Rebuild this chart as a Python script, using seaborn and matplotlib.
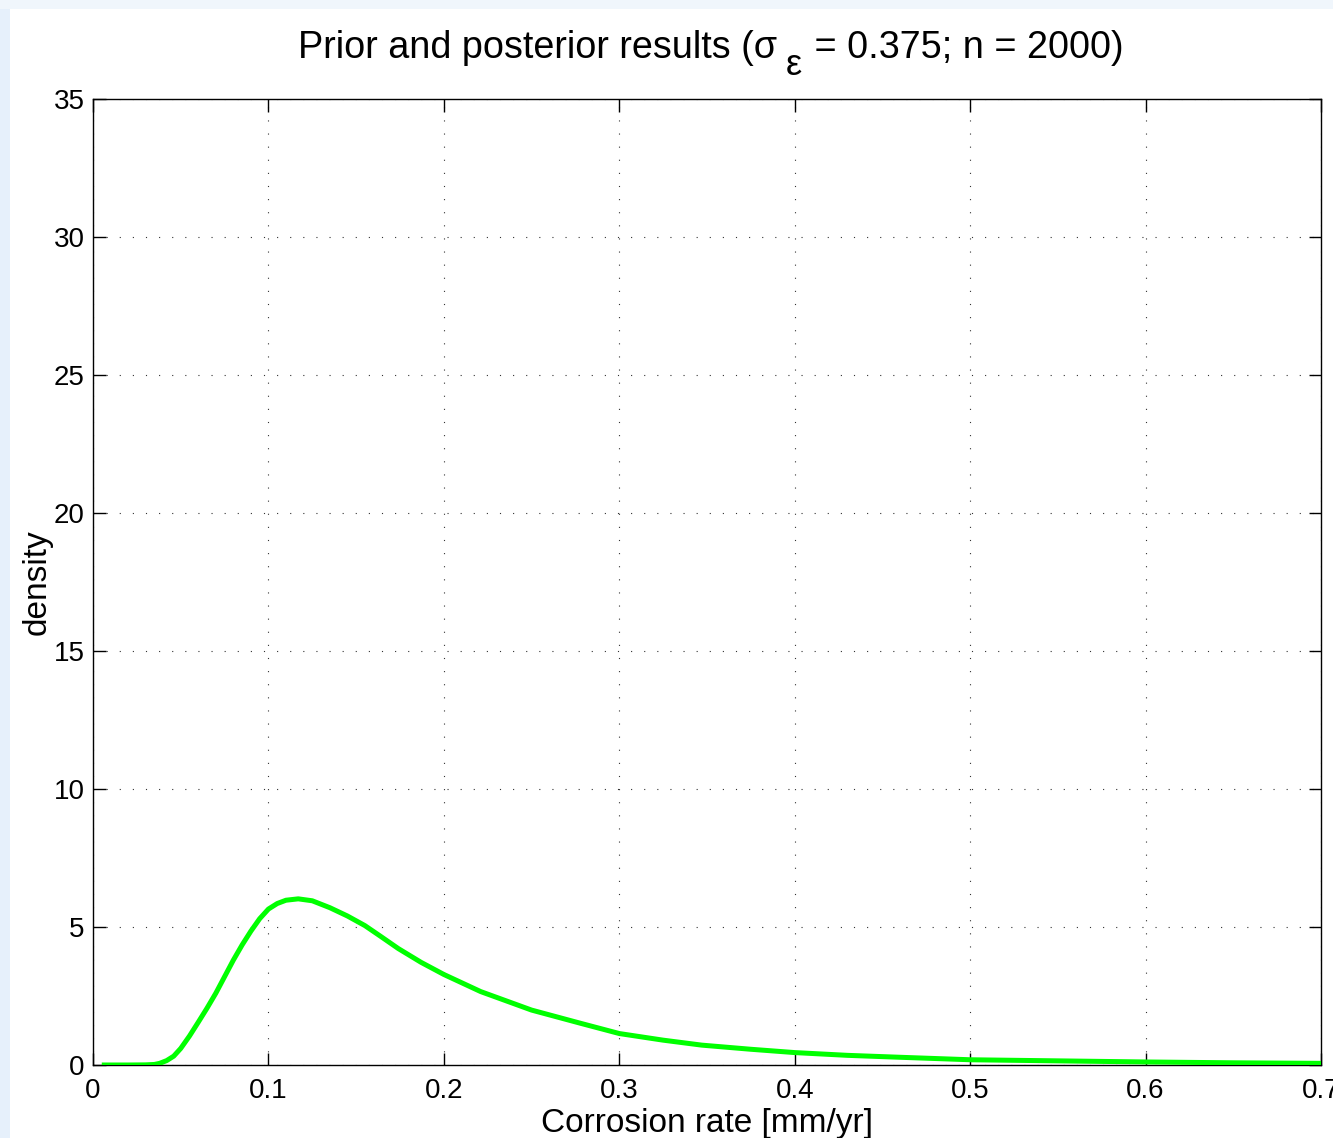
import matplotlib
matplotlib.use("Agg")
import matplotlib.pyplot as plt
import seaborn as sns
import pandas as pd
from matplotlib.patches import Rectangle

# ---- data ----
rate = [0.005, 0.020, 0.030, 0.035, 0.038, 0.042, 0.046, 0.050, 0.055, 0.060,
        0.065, 0.070, 0.075, 0.080, 0.085, 0.090, 0.095, 0.100, 0.105, 0.110,
        0.117, 0.125, 0.135, 0.145, 0.155, 0.164, 0.174, 0.187, 0.200, 0.221,
        0.250, 0.278, 0.300, 0.325, 0.347, 0.375, 0.400, 0.430, 0.460, 0.500,
        0.550, 0.600, 0.650, 0.700]
density = [0.0, 0.0, 0.005, 0.02, 0.06, 0.16, 0.32, 0.6, 1.05, 1.55,
           2.06, 2.6, 3.2, 3.8, 4.35, 4.85, 5.3, 5.65, 5.85, 5.97,
           6.02, 5.95, 5.7, 5.4, 5.05, 4.66, 4.22, 3.72, 3.28, 2.66,
           1.99, 1.51, 1.14, 0.9, 0.72, 0.57, 0.45, 0.35, 0.28, 0.19,
           0.15, 0.11, 0.08, 0.06]

xticks = [0, 0.1, 0.2, 0.3, 0.4, 0.5, 0.6, 0.7]
xticklabels = ["0", "0.1", "0.2", "0.3", "0.4", "0.5", "0.6", "0.7"]
yticks = [0, 5, 10, 15, 20, 25, 30, 35]
yticklabels = ["0", "5", "10", "15", "20", "25", "30", "35"]

title_main = "Prior and posterior results (σ"
title_sub = "ε"
title_rest = " = 0.375; n = 2000)"
xlabel = "Corrosion rate [mm/yr]"
ylabel = "density"

df = pd.DataFrame({"rate": rate, "density": density})

sns.set_theme(style="white")
plt.rcParams["font.family"] = ["Liberation Sans", "DejaVu Sans"]
plt.rcParams["text.color"] = "black"
plt.rcParams["axes.labelcolor"] = "black"
plt.rcParams["xtick.color"] = "black"
plt.rcParams["ytick.color"] = "black"

W, H = 1333, 1138
fig = plt.figure(figsize=(W / 100, H / 100), dpi=100, facecolor="white")
# light-blue window frame strips at left and top
fig.patches.append(Rectangle((0, 0), 10 / W, 1, transform=fig.transFigure,
                             facecolor="#e6f0fb", edgecolor="none", zorder=0))
fig.patches.append(Rectangle((0, 1 - 9 / H), 1, 9 / H, transform=fig.transFigure,
                             facecolor="#f0f6fc", edgecolor="none", zorder=0))

ax = fig.add_axes([93 / W, (H - 1065) / H, (1321 - 93) / W, (1065 - 99) / H])
ax.set_facecolor("white")

sns.lineplot(data=df, x="rate", y="density", ax=ax, color="#00ff00",
             linewidth=3.6, zorder=3, sort=True, estimator=None)
for ln in ax.lines:
    ln.set_solid_joinstyle("round")
    ln.set_solid_capstyle("butt")

ax.set_xlim(0, 0.7)
ax.set_ylim(0, 35)
ax.set_xticks(xticks)
ax.set_xticklabels(xticklabels)
ax.set_yticks(yticks)
ax.set_yticklabels(yticklabels)

ax.grid(True, color="0.2", linestyle=(0, (1, 10.8)), linewidth=0.8)
ax.set_axisbelow(True)

for s in ax.spines.values():
    s.set_visible(True)
    s.set_color("black")
    s.set_linewidth(1.0)

ax.tick_params(axis="both", which="major", direction="in", length=9,
               width=1.0, color="black", labelcolor="black", labelsize=20,
               top=True, right=True, bottom=True, left=True)
ax.tick_params(axis="x", pad=9)
ax.tick_params(axis="y", pad=6)

ax.set_xlabel(xlabel, fontsize=24, labelpad=3, color="black")
ax.set_ylabel(ylabel, fontsize=24, labelpad=1, color="black")

# title with a low MATLAB-style subscript
base_y = H - 58
t1 = fig.text(298 / W, base_y / H, title_main, fontsize=27.2, ha="left",
              va="baseline", color="black")
t2 = ax.annotate(title_sub, xy=(1, base_y - 17), xycoords=(t1, "figure pixels"),
                 xytext=(6, 0), textcoords="offset points",
                 fontsize=26, ha="left", va="baseline", color="black",
                 annotation_clip=False)
t3 = ax.annotate(title_rest, xy=(1, base_y), xycoords=(t2, "figure pixels"),
                 xytext=(1.5, 0), textcoords="offset points",
                 fontsize=27.2, ha="left", va="baseline", color="black",
                 annotation_clip=False)

fig.savefig("out.png", dpi=100, facecolor="white")
